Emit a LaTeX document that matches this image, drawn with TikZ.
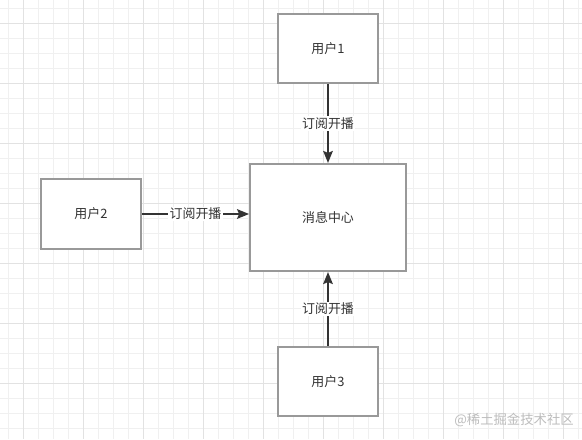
\documentclass[tikz,border=0pt]{standalone}
\usepackage{fontspec}
\newfontfamily\cjk{Noto Sans CJK SC}
\definecolor{boxgray}{HTML}{999999}
\definecolor{inkgray}{HTML}{333333}
\definecolor{gridminor}{HTML}{F0F0F0}
\definecolor{gridmajor}{HTML}{E2E2E2}
\definecolor{markgray}{HTML}{BDBDBD}
\usetikzlibrary{arrows.meta,positioning}

\begin{document}
\begin{tikzpicture}[x=0.025cm, y=-0.025cm, font=\cjk\fontsize{9.2}{11}\selectfont, text=inkgray,
    userbox/.style={rectangle, draw=boxgray, line width=1.3pt, fill=white,
                    minimum width=2.5cm, minimum height=1.73cm},
    hubbox/.style={rectangle, draw=boxgray, line width=1.3pt, fill=white,
                   minimum width=3.9cm, minimum height=2.68cm},
    subarrow/.style={-{Stealth[length=0.3cm, width=0.24cm, inset=0.05cm]},
                     line width=1.3pt, draw=inkgray},
    sublabel/.style={fill=white, inner sep=1pt}]
    \useasboundingbox (0,0) rectangle (582,439);
    \fill[white] (0,0) rectangle (582,439);

    % Background grid
    \foreach \gx in {8,23,...,578}
      \draw[gridminor, line width=0.5pt] (\gx,0) -- (\gx,439);
    \foreach \gy in {8,23,...,438}
      \draw[gridminor, line width=0.5pt] (0,\gy) -- (582,\gy);
    \foreach \gx in {23,83,...,563}
      \draw[gridmajor, line width=0.6pt] (\gx,0) -- (\gx,439);
    \foreach \gy in {23,83,...,403}
      \draw[gridmajor, line width=0.6pt] (0,\gy) -- (582,\gy);

    % Boxes
    \node[hubbox] (hub) at (328,217.5) {消息中心};
    \node[userbox] (user1) at (328,48.5) {用户1};
    \node[userbox] (user2) at (91,214) {用户2};
    \node[userbox] (user3) at (328,381.5) {用户3};

    % Subscriptions
    \draw[subarrow] (user1.south) -- node[sublabel]{订阅开播} (hub.north);
    \draw[subarrow] (user2.east) -- node[sublabel]{订阅开播} (hub.west |- user2.east);
    \draw[subarrow] (user3.north) -- node[sublabel]{订阅开播} (hub.south);

    % Watermark
    \node[text=markgray, font=\cjk\fontsize{9.5}{11}\selectfont] (mark) at (514,420) {@稀土掘金技术社区};
\end{tikzpicture}
\end{document}
